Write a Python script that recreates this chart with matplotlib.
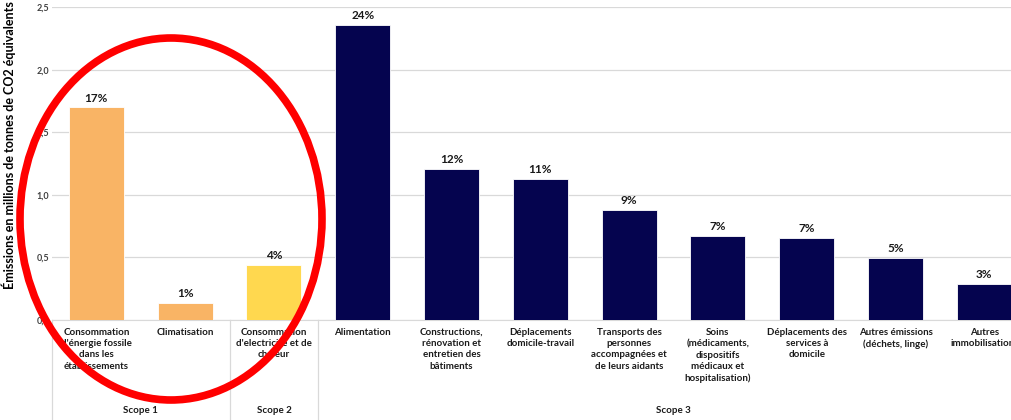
import matplotlib.pyplot as plt
from matplotlib.patches import Ellipse
import numpy as np

plt.rcParams['font.family'] = ['Lato', 'DejaVu Sans']

# données
categories = [
    "Consommation\nd'énergie fossile\ndans les\nétablissements",
    "Climatisation",
    "Consommation\nd'electricité et de\nchaleur",
    "Alimentation",
    "Constructions,\nrénovation et\nentretien des\nbâtiments",
    "Déplacements\ndomicile-travail",
    "Transports des\npersonnes\naccompagnées et\nde leurs aidants",
    "Soins\n(médicaments,\ndispositifs\nmédicaux et\nhospitalisation)",
    "Déplacements des\nservices à\ndomicile",
    "Autres émissions\n(déchets, linge)",
    "Autres\nimmobilisations",
]
valeurs = [1.70, 0.135, 0.44, 2.36, 1.21, 1.13, 0.88, 0.67, 0.655, 0.495, 0.29]
pourcentages = ['17%', '1%', '4%', '24%', '12%', '11%', '9%', '7%', '7%', '5%', '3%']
scopes = ['Scope 1', 'Scope 2', 'Scope 3']
scope_tailles = [2, 1, 8]
scope_couleurs = ['#F9B465', '#FFD84F', '#05044F']

couleurs = []
for c, n in zip(scope_couleurs, scope_tailles):
    couleurs += [c] * n

fig = plt.figure(figsize=(10.11, 4.2), dpi=100)
ax = fig.add_axes([0.0514, 0.238, 0.9486, 0.745])

x = np.arange(len(categories))
ax.bar(x, valeurs, width=0.62, color=couleurs, edgecolor='white', linewidth=0.6, zorder=3)

for xi, v, p in zip(x, valeurs, pourcentages):
    ax.text(xi, v + 0.03, p, ha='center', va='bottom', fontsize=8.5,
            fontweight='bold', color='#1a1a1a')

ax.set_xlim(-0.5, 10.3)
ax.set_ylim(0, 2.5)
yt = np.arange(0, 2.51, 0.5)
ax.set_yticks(yt)
ax.set_yticklabels([f'{t:.1f}'.replace('.', ',') for t in yt], fontsize=6.5,
                   fontweight='bold', color='#404040')
ax.tick_params(axis='y', length=0, pad=2)
ax.set_xticks([])
ax.grid(axis='y', color='#D9D9D9', linewidth=0.9, zorder=0)
for s in ['top', 'right', 'left']:
    ax.spines[s].set_visible(False)
ax.spines['bottom'].set_color('#D9D9D9')

ax.set_ylabel('Émissions en millions de tonnes de CO2 équivalents', fontsize=9,
              fontweight='bold', color='black', labelpad=4)
ax.yaxis.set_label_coords(-0.037, 0.56)

# libellés des catégories
for xi, lab in zip(x, categories):
    ax.text(xi, -0.06, lab, ha='center', va='top', fontsize=7, fontweight='bold',
            color='#1a1a1a', linespacing=1.35, clip_on=False)

# séparateurs et libellés des scopes
bornes = np.concatenate([[0], np.cumsum(scope_tailles)]) - 0.5
for b in bornes[:-1]:
    ax.plot([b, b], [0, -0.8], color='#D9D9D9', linewidth=0.9, clip_on=False)
for i, s in enumerate(scopes):
    centre = (bornes[i] + bornes[i + 1]) / 2
    ax.text(centre, -0.72, s, ha='center', va='center', fontsize=7, fontweight='bold',
            color='#1a1a1a', clip_on=False)

# ellipse rouge
ell = Ellipse((171 / 1011, 1 - 219 / 420), 302 / 1011, 362 / 420,
              transform=fig.transFigure, fill=False, edgecolor='#FF0000',
              linewidth=5.5, zorder=10)
fig.patches.append(ell)

fig.savefig('out.png', dpi=100)
